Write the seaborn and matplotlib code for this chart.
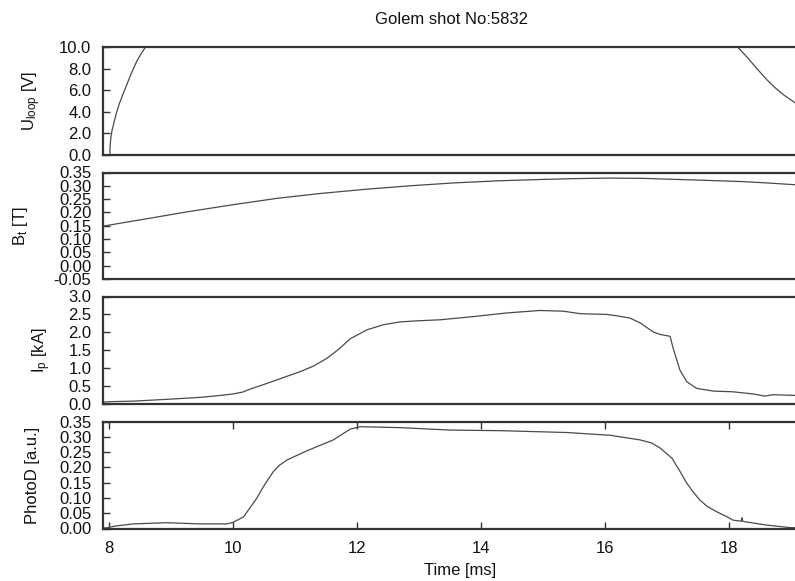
import numpy as np
import pandas as pd
import matplotlib
matplotlib.use("Agg")
import matplotlib.pyplot as plt
import seaborn as sns

# ---- data ----
uloop_rise_t = [8.016, 8.016, 8.02, 8.03, 8.05, 8.08, 8.12, 8.17, 8.23, 8.30, 8.37,
                8.45, 8.52, 8.59, 8.70]
uloop_rise_v = [0.0, 0.6, 1.0, 1.6, 2.3, 3.0, 3.9, 4.8, 5.7, 6.7, 7.7,
                8.7, 9.4, 10.0, 11.2]
uloop_fall_t = [18.0, 18.14, 18.28, 18.45, 18.61, 18.75, 18.88, 19.06, 19.2]
uloop_fall_v = [11.0, 10.0, 9.13, 8.0, 6.97, 6.2, 5.57, 4.86, 4.45]

bt_t = [7.89, 8.5, 9.28, 10.0, 10.71, 11.4, 12.14, 12.85, 13.57, 14.3, 15.0,
        15.5, 16.07, 16.6, 17.15, 17.7, 18.2, 18.6, 19.0, 19.2]
bt_v = [0.148, 0.172, 0.203, 0.229, 0.253, 0.271, 0.287, 0.300, 0.311, 0.319, 0.324,
        0.327, 0.329, 0.328, 0.324, 0.320, 0.316, 0.311, 0.305, 0.303]

ip_t = [7.9, 8.02, 8.39, 8.93, 9.47, 9.8, 10.0, 10.15, 10.3, 10.54, 10.8, 11.08, 11.3,
        11.51, 11.7, 11.89, 12.16, 12.42, 12.69, 12.96, 13.34, 13.88, 14.41, 14.95,
        15.33, 15.6, 16.03, 16.19, 16.4, 16.56, 16.78, 16.89, 17.05, 17.1, 17.21,
        17.32, 17.48, 17.75, 18.07, 18.39, 18.58, 18.71, 19.06, 19.2]
ip_v = [0.05, 0.065, 0.08, 0.13, 0.185, 0.24, 0.28, 0.33, 0.43, 0.57, 0.73, 0.90, 1.06,
        1.27, 1.52, 1.82, 2.07, 2.21, 2.29, 2.32, 2.35, 2.44, 2.54, 2.61,
        2.59, 2.52, 2.50, 2.46, 2.40, 2.27, 2.01, 1.94, 1.89, 1.55, 0.94,
        0.62, 0.435, 0.36, 0.34, 0.28, 0.22, 0.26, 0.24, 0.24]

pd_t = [7.9, 7.96, 8.1, 8.39, 8.93, 9.47, 9.9, 10.0, 10.17, 10.38, 10.5, 10.65, 10.75,
        10.87, 11.19, 11.62, 11.89, 12.05, 12.69, 13.5, 14.31, 15.38, 16.08, 16.56,
        16.75, 16.89, 17.08, 17.2, 17.32, 17.42, 17.53, 17.65, 17.8, 17.95, 18.07,
        18.2, 18.21, 18.22, 18.26, 18.61, 18.98, 19.2]
pd_v = [0.002, 0.002, 0.008, 0.015, 0.019, 0.015, 0.015, 0.02, 0.038, 0.098, 0.14, 0.186,
        0.207, 0.224, 0.254, 0.29, 0.325, 0.333, 0.330, 0.322, 0.32, 0.314, 0.305, 0.29,
        0.28, 0.263, 0.23, 0.19, 0.148, 0.12, 0.093, 0.072, 0.055, 0.04, 0.027,
        0.024, 0.035, 0.024, 0.022, 0.011, 0.003, 0.002]

x_ticks = [8, 10, 12, 14, 16, 18]
title = "Golem shot No:5832"
xlabel = "Time [ms]"

# ---- style ----
sns.set_theme(style="ticks")
plt.rcParams["font.family"] = ["Liberation Sans", "DejaVu Sans"]
plt.rcParams["mathtext.fontset"] = "custom"
plt.rcParams["mathtext.rm"] = "Liberation Sans"
plt.rcParams["mathtext.it"] = "Liberation Sans"
plt.rcParams["axes.unicode_minus"] = False

LINE = "#4a4a4a"
SPINE = "#333333"
FS = 12

W, H = 795, 581
fig = plt.figure(figsize=(W / 100, H / 100), dpi=100)

left_px, right_px = 102.5, 806
panels_px = [(47, 155), (172.5, 279), (296.5, 404), (421.5, 528.5)]
axes = []
for top, bot in panels_px:
    ax = fig.add_axes([left_px / W, 1 - bot / H, (right_px - left_px) / W, (bot - top) / H])
    axes.append(ax)

xlim = (8 - (109 - left_px) / 62, 8 + (right_px - 109) / 62)

# panel 1: Uloop
df_u = pd.DataFrame({
    "t": uloop_rise_t + uloop_fall_t,
    "v": uloop_rise_v + uloop_fall_v,
    "seg": ["rise"] * len(uloop_rise_t) + ["fall"] * len(uloop_fall_t),
})
sns.lineplot(data=df_u, x="t", y="v", units="seg", estimator=None, sort=False,
             color=LINE, lw=0.9, ax=axes[0])
axes[0].set_ylim(0, 10)
axes[0].set_yticks(np.arange(0, 10.01, 2))
axes[0].set_yticklabels([f"{v:.1f}" for v in np.arange(0, 10.01, 2)])
axes[0].set_ylabel(r"U$_{\rm loop}$ [V]")

# panel 2: Bt
sns.lineplot(x=bt_t, y=bt_v, color=LINE, lw=0.9, ax=axes[1])
axes[1].set_ylim(-0.05, 0.35)
yt = np.arange(-0.05, 0.351, 0.05)
axes[1].set_yticks(yt)
axes[1].set_yticklabels([f"{v:.2f}" if abs(v) > 1e-9 else "0.00" for v in yt])
axes[1].set_ylabel(r"B$_{\rm t}$ [T]")

# panel 3: Ip
sns.lineplot(x=ip_t, y=ip_v, color=LINE, lw=0.9, ax=axes[2])
axes[2].set_ylim(0, 3.0)
yt = np.arange(0, 3.01, 0.5)
axes[2].set_yticks(yt)
axes[2].set_yticklabels([f"{v:.1f}" for v in yt])
axes[2].set_ylabel(r"I$_{\rm p}$ [kA]")

# panel 4: PhotoD
sns.lineplot(x=pd_t, y=pd_v, color=LINE, lw=0.9, ax=axes[3])
axes[3].set_ylim(0, 0.35)
yt = np.arange(0, 0.351, 0.05)
axes[3].set_yticks(yt)
axes[3].set_yticklabels([f"{v:.2f}" for v in yt])
axes[3].set_ylabel("PhotoD [a.u.]")

label_right_px = [43, 30, 53, 40]
for i, ax in enumerate(axes):
    ax.set_xlim(*xlim)
    for s in ax.spines.values():
        s.set_visible(True)
        s.set_linewidth(1.6)
        s.set_color(SPINE)
    ax.tick_params(axis="y", direction="in", length=5, width=1.0, color=SPINE,
                   left=True, right=True, labelsize=FS, pad=8, labelcolor="#111111")
    ax.yaxis.label.set_size(FS)
    ax.yaxis.label.set_color("#111111")
    ax.yaxis.set_label_coords((label_right_px[i] - left_px) / (right_px - left_px), 0.5)
    if i < 3:
        ax.tick_params(axis="x", bottom=False, top=False, labelbottom=False)
        ax.set_xlabel("")
    else:
        ax.set_xticks(x_ticks)
        ax.set_xticklabels([str(v) for v in x_ticks])
        ax.tick_params(axis="x", direction="in", length=5, width=1.0, color=SPINE,
                       bottom=True, top=True, labelsize=FS, pad=9, labelcolor="#111111")
        ax.set_xlabel(xlabel, fontsize=FS, color="#111111")
        ax.xaxis.set_label_coords((460 - left_px) / (right_px - left_px),
                                  (528.5 - 563) / (528.5 - 421.5))

fig.text((left_px + 800) / 2 / W, 1 - 20 / H, title, ha="center", va="center",
         fontsize=FS, color="#111111")

fig.savefig("out.png", dpi=100)
